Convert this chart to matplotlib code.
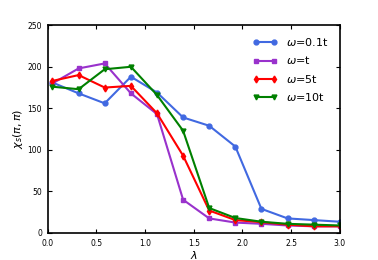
import numpy as np
import matplotlib.pyplot as plt

lam = [0.05, 0.318, 0.586, 0.855, 1.123, 1.391, 1.659, 1.927, 2.195, 2.464, 2.732, 3.0]

chi_01t = [181, 168, 156, 188, 169, 139, 129, 104, 29, 17.5, 15.5, 13.5]
chi_1t = [180, 198, 204, 168, 143, 40, 17.5, 12.5, 11, 9, 8, 8]
chi_5t = [183, 190, 175, 177, 144, 93, 27, 15.5, 13, 10, 8, 8]
chi_10t = [176, 173, 197, 200, 166, 123, 30, 18, 13.5, 11, 10, 9]

labels = [r'$\omega$=0.1t', r'$\omega$=t', r'$\omega$=5t', r'$\omega$=10t']
colores = ['royalblue', 'darkorchid', 'red', 'green']
marcadores = ['o', 's', 'd', 'v']

fig = plt.figure(figsize=(3.78, 2.6), dpi=100)
ax = fig.add_axes([0.126, 0.104, 0.773, 0.799])

for y, lab, c, m in zip([chi_01t, chi_1t, chi_5t, chi_10t], labels, colores, marcadores):
    ax.plot(lam, y, color=c, marker=m, markersize=3.5, lw=1.5, label=lab)

ax.set_xlim(0, 3)
ax.set_ylim(0, 250)
ax.set_xticks([0, 0.5, 1.0, 1.5, 2.0, 2.5, 3.0])
ax.set_yticks([0, 50, 100, 150, 200, 250])
ax.tick_params(direction='in', top=True, right=True, labelsize=5.5, length=3, pad=4)
for s in ax.spines.values():
    s.set_linewidth(1.2)
ax.set_xlabel(r'$\lambda$', fontsize=8, labelpad=1)
ax.set_ylabel(r'$\chi_s(\pi,\pi)$', fontsize=8, labelpad=2)

ax.legend(loc='upper right', frameon=False, fontsize=8, numpoints=2, handlelength=2.2,
          labelspacing=0.55, borderaxespad=0.6)

fig.savefig('out.png', dpi=100)
